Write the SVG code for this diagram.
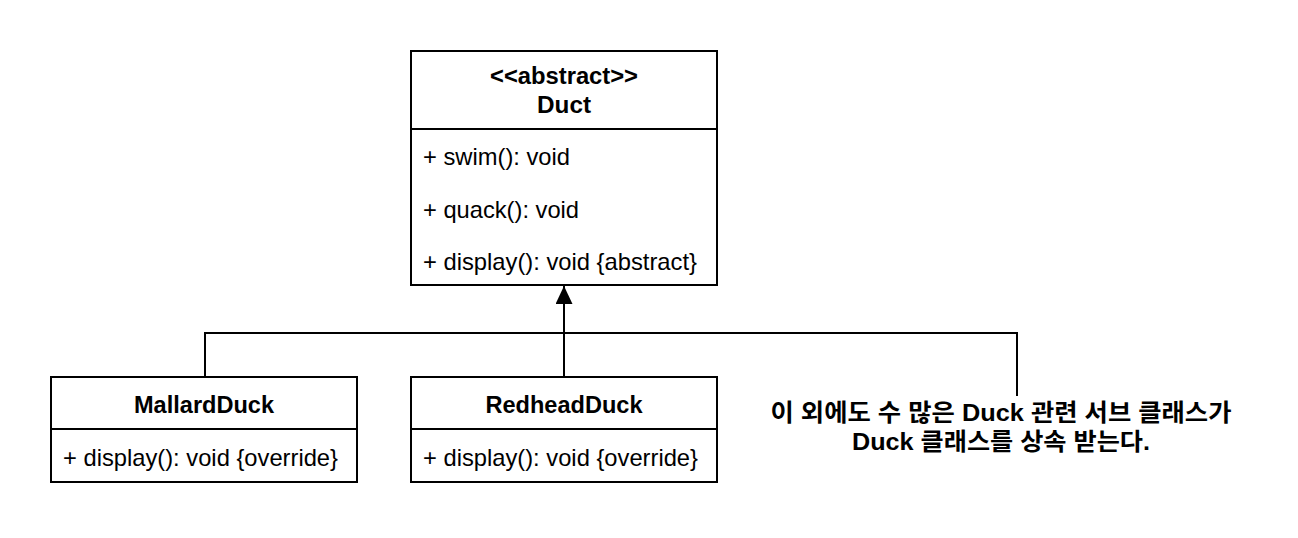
<svg xmlns="http://www.w3.org/2000/svg" width="1298" height="538" viewBox="0 0 1298 538">
<defs>
<style>
.box{fill:#fff;stroke:#000;stroke-width:2}
.sep{stroke:#000;stroke-width:2;fill:none}
.t{font-family:"Liberation Sans",Arial,"Noto Sans CJK KR",sans-serif;font-size:24px;fill:#000}
.b{font-weight:bold;font-size:23.5px}
.c{text-anchor:middle}
.k{font-size:24px}
.edge{stroke:#000;stroke-width:2;fill:none}
</style>
<marker id="tri" viewBox="0 0 18 17" refX="18" refY="8.5" markerWidth="18" markerHeight="17" markerUnits="userSpaceOnUse" orient="auto">
<path d="M0,0 L18,8.5 L0,17 Z" fill="#000"/>
</marker>
</defs>
<rect width="1298" height="538" fill="#fff"/>
<g id="connectors">
<path class="edge" d="M564,377 L564,286" marker-end="url(#tri)"/>
<path class="edge" d="M205,377 L205,333 L1017,333 L1017,396"/>
</g>
<g id="duct">
<rect class="box" x="411" y="51" width="306" height="234"/>
<line class="sep" x1="411" y1="129" x2="717" y2="129"/>
<text class="t b c" x="564" y="84" textLength="148" lengthAdjust="spacingAndGlyphs">&lt;&lt;abstract&gt;&gt;</text>
<text class="t b c" x="564" y="113" textLength="54" lengthAdjust="spacingAndGlyphs">Duct</text>
<text class="t" x="423" y="165" textLength="147" lengthAdjust="spacingAndGlyphs">+ swim(): void</text>
<text class="t" x="423" y="218" textLength="156" lengthAdjust="spacingAndGlyphs">+ quack(): void</text>
<text class="t" x="423" y="270" textLength="274" lengthAdjust="spacingAndGlyphs">+ display(): void {abstract}</text>
</g>
<g id="mallard">
<rect class="box" x="51" y="377" width="306" height="105"/>
<line class="sep" x1="51" y1="429" x2="357" y2="429"/>
<text class="t b c" x="204" y="413" textLength="140" lengthAdjust="spacingAndGlyphs">MallardDuck</text>
<text class="t" x="63" y="466" textLength="275" lengthAdjust="spacingAndGlyphs">+ display(): void {override}</text>
</g>
<g id="redhead">
<rect class="box" x="411" y="377" width="306" height="105"/>
<line class="sep" x1="411" y1="429" x2="717" y2="429"/>
<text class="t b c" x="564" y="413" textLength="157" lengthAdjust="spacingAndGlyphs">RedheadDuck</text>
<text class="t" x="423" y="466" textLength="275" lengthAdjust="spacingAndGlyphs">+ display(): void {override}</text>
</g>
<g id="note">
<text class="t b c k" x="1001" y="421" textLength="461" lengthAdjust="spacingAndGlyphs">이 외에도 수 많은 Duck 관련 서브 클래스가</text>
<text class="t b c k" x="1001" y="450" textLength="298" lengthAdjust="spacingAndGlyphs">Duck 클래스를 상속 받는다.</text>
</g>
</svg>
